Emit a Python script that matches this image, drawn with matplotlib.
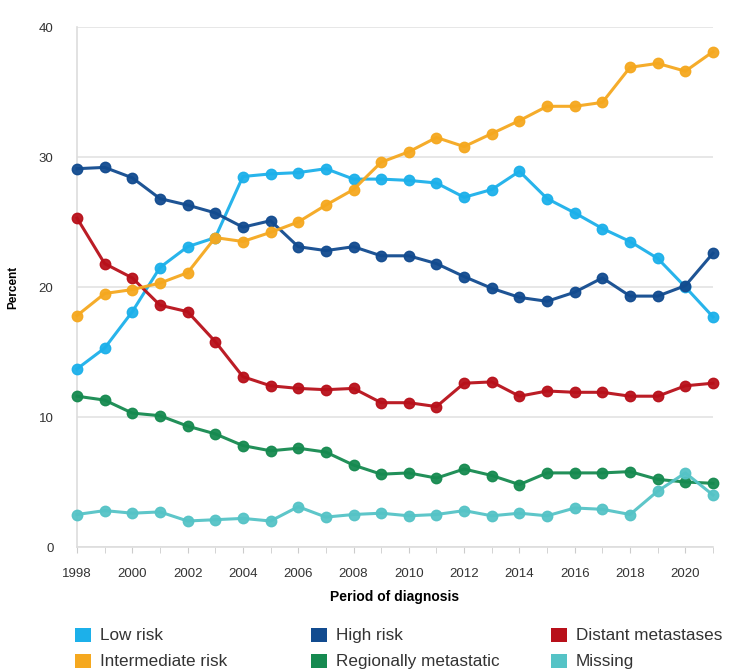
import matplotlib
matplotlib.use("Agg")
import matplotlib.pyplot as plt
from matplotlib.patches import Rectangle

plt.rcParams['font.family'] = ['Liberation Sans', 'DejaVu Sans']

years = list(range(1998, 2022))
low_risk = [13.7, 15.3, 18.1, 21.5, 23.1, 23.8, 28.5, 28.7, 28.8, 29.1, 28.3, 28.3,
            28.2, 28.0, 26.9, 27.5, 28.9, 26.8, 25.7, 24.5, 23.5, 22.2, 20.0, 17.7]
intermediate = [17.8, 19.5, 19.8, 20.3, 21.1, 23.8, 23.5, 24.2, 25.0, 26.3, 27.5, 29.6,
                30.4, 31.5, 30.8, 31.8, 32.8, 33.9, 33.9, 34.2, 36.9, 37.2, 36.6, 38.1]
high_risk = [29.1, 29.2, 28.4, 26.8, 26.3, 25.7, 24.6, 25.1, 23.1, 22.8, 23.1, 22.4,
             22.4, 21.8, 20.8, 19.9, 19.2, 18.9, 19.6, 20.7, 19.3, 19.3, 20.1, 22.6]
distant = [25.3, 21.8, 20.7, 18.6, 18.1, 15.8, 13.1, 12.4, 12.2, 12.1, 12.2, 11.1,
           11.1, 10.8, 12.6, 12.7, 11.6, 12.0, 11.9, 11.9, 11.6, 11.6, 12.4, 12.6]
regional = [11.6, 11.3, 10.3, 10.1, 9.3, 8.7, 7.8, 7.4, 7.6, 7.3, 6.3, 5.6,
            5.7, 5.3, 6.0, 5.5, 4.8, 5.7, 5.7, 5.7, 5.8, 5.2, 5.0, 4.9]
missing = [2.5, 2.8, 2.6, 2.7, 2.0, 2.1, 2.2, 2.0, 3.1, 2.3, 2.5, 2.6,
           2.4, 2.5, 2.8, 2.4, 2.6, 2.4, 3.0, 2.9, 2.5, 4.3, 5.7, 4.0]

series = [
    ("Low risk", low_risk, "#1cb0ea"),
    ("High risk", high_risk, "#124b8f"),
    ("Distant metastases", distant, "#b8101a"),
    ("Intermediate risk", intermediate, "#f5a81f"),
    ("Regionally metastatic", regional, "#168a50"),
    ("Missing", missing, "#55c3c6"),
]

W, H = 749, 671
fig = plt.figure(figsize=(W/100, H/100), dpi=100)
ax = fig.add_axes([77/W, 1-547/H, (713-77)/W, (547-27)/H])

for name, vals, col in series:
    ax.plot(years, vals, color=col, lw=2.2, marker='o', ms=7.5,
            markeredgecolor=col, markerfacecolor=col, alpha=0.95, zorder=3,
            clip_on=False)

ax.set_xlim(1998, 2021)
ax.set_ylim(0, 40)
ax.set_yticks([0, 10, 20, 30, 40])
ax.set_xticks(years, minor=True)
ax.set_xticks(list(range(1998, 2021, 2)))
ax.grid(axis='y', color='#e3e3e3', lw=1.2, zorder=0)
for s in ['top', 'right']:
    ax.spines[s].set_visible(False)
for s in ['left', 'bottom']:
    ax.spines[s].set_color('#dddddd')
    ax.spines[s].set_linewidth(1.2)
ax.tick_params(axis='y', length=0, labelsize=9.5, labelcolor='#333333', pad=17)
ax.tick_params(axis='x', which='both', length=4, color='#cccccc', labelsize=9.5,
               labelcolor='#333333', pad=11)
ax.set_ylabel("Percent", fontsize=8.5, fontweight='bold', labelpad=14)
ax.set_xlabel("Period of diagnosis", fontsize=10, fontweight='bold', labelpad=7)

# legend laid out in 3 columns x 2 rows
order = [0, 3, 1, 4, 2, 5]
col_x = [75, 311, 551]
row_y = [635, 661]
for k, i in enumerate(order):
    c, r = k // 2, k % 2
    name, _, colr = series[i]
    x0, yc = col_x[c], row_y[r]
    fig.patches.append(Rectangle((x0/W, 1-(yc+7)/H), 16/W, 14/H,
                                 transform=fig.transFigure, facecolor=colr,
                                 edgecolor='none'))
    fig.text((x0+25)/W, 1-(yc+5)/H, name, fontsize=12.3, color='#333333',
             va='baseline', ha='left')

fig.savefig("out.png", dpi=100)
